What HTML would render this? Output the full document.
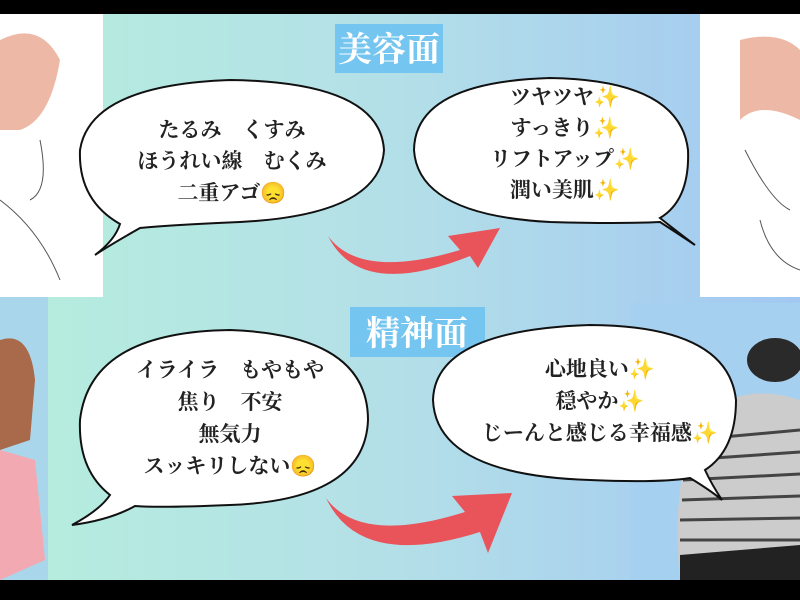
<!DOCTYPE html>
<html><head><meta charset="utf-8"><style>
body{margin:0;width:800px;height:600px;overflow:hidden;background:#000}
svg{display:block}
text{font-family:"Liberation Serif","Noto Serif CJK SC","Noto Sans CJK JP",serif;font-weight:bold;fill:#222;font-size:21px;text-anchor:middle}
.lab{fill:#fff;font-size:34px;font-weight:bold}
</style></head><body>
<svg width="800" height="600" viewBox="0 0 800 600">
<defs><linearGradient id="g" x1="0" x2="1" y1="0" y2="0">
<stop offset="0" stop-color="#b6eedd"/><stop offset="0.5" stop-color="#b3dfe8"/><stop offset="1" stop-color="#a2c8f2"/></linearGradient></defs>
<rect x="0" y="0" width="800" height="600" fill="#000"/>
<rect x="0" y="14" width="800" height="566" fill="url(#g)"/>
<rect x="0" y="14" width="103" height="283" fill="#fff"/>
<path d="M0 40 Q40 20 60 60 Q50 120 20 130 L0 130Z" fill="#e9a68f" opacity=".8"/>
<path d="M0 200 Q40 230 60 280 M40 140 Q50 190 30 200" stroke="#555" fill="none"/>
<rect x="700" y="14" width="100" height="283" fill="#fff"/>
<path d="M740 40 Q780 30 800 50 L800 120 Q760 100 740 120Z" fill="#e9a68f" opacity=".8"/>
<path d="M745 150 Q770 200 790 210 M760 220 Q770 260 800 270" stroke="#555" fill="none"/>
<rect x="0" y="297" width="48" height="283" fill="#a9d6ea"/>
<path d="M0 340 Q30 330 35 380 L30 440 L0 450Z" fill="#a86a4a"/>
<path d="M0 450 L35 460 L45 560 L0 580Z" fill="#f2a9b2"/>
<rect x="630" y="303" width="170" height="277" fill="#a6d0ef"/>
<ellipse cx="775" cy="360" rx="28" ry="22" fill="#2a2a2a"/>
<path d="M700 420 Q740 380 800 400 L800 580 L680 580 Q670 480 700 420Z" fill="#ccc"/>
<g stroke="#444" stroke-width="3"><line x1="690" y1="440" x2="800" y2="430"/><line x1="685" y1="460" x2="800" y2="452"/><line x1="683" y1="480" x2="800" y2="474"/><line x1="682" y1="500" x2="800" y2="496"/><line x1="680" y1="520" x2="800" y2="518"/><line x1="680" y1="540" x2="800" y2="540"/></g>
<path d="M680 555 L800 545 L800 580 L680 580Z" fill="#222"/>
<rect x="335" y="24" width="108" height="49" fill="#74c5ef"/>
<text class="lab" x="389" y="61">美容面</text>
<rect x="350" y="307" width="135" height="50" fill="#74c5ef"/>
<text class="lab" x="417" y="345">精神面</text>
<g fill="#fff" stroke="#111" stroke-width="2">
<path d="M120 224 Q78 200 80 150 Q90 85 230 80 Q380 82 384 150 Q380 215 240 222 Q170 225 140 228 Q110 245 95 255 Q115 240 120 224Z"/>
<path d="M660 218 Q690 200 688 150 Q680 80 550 78 Q415 82 414 150 Q418 215 550 222 Q620 224 660 222 Q680 235 695 245 Q675 230 660 218Z"/>
<path d="M110 495 Q78 470 80 420 Q90 332 230 330 Q368 335 368 420 Q365 500 230 505 Q160 508 135 506 Q110 520 72 525 Q100 510 110 495Z"/>
<path d="M705 470 Q736 450 736 400 Q728 326 590 325 Q435 330 433 400 Q436 475 590 480 Q660 483 690 478 Q710 490 722 500 Q712 485 705 470Z"/>
</g>
<g fill="#e9535a">
<path d="M328 236 Q360 280 460 250 L448 236 L500 228 L478 268 L470 256 Q360 300 328 236Z"/>
<path d="M326 498 Q360 545 465 512 L452 496 L512 493 L488 553 L480 532 Q360 570 326 498Z"/>
</g>
<text x="232" y="137">たるみ　くすみ</text>
<text x="232" y="168">ほうれい線　むくみ</text>
<text x="232" y="200">二重アゴ😞</text>
<text x="565" y="104">ツヤツヤ✨</text>
<text x="565" y="135">すっきり✨</text>
<text x="565" y="166">リフトアップ✨</text>
<text x="565" y="197">潤い美肌✨</text>
<text x="230" y="377">イライラ　もやもや</text>
<text x="230" y="409">焦り　不安</text>
<text x="230" y="441">無気力</text>
<text x="230" y="473">スッキリしない😞</text>
<text x="600" y="376">心地良い✨</text>
<text x="600" y="408">穏やか✨</text>
<text x="600" y="440">じーんと感じる幸福感✨</text>
</svg>
</body></html>
